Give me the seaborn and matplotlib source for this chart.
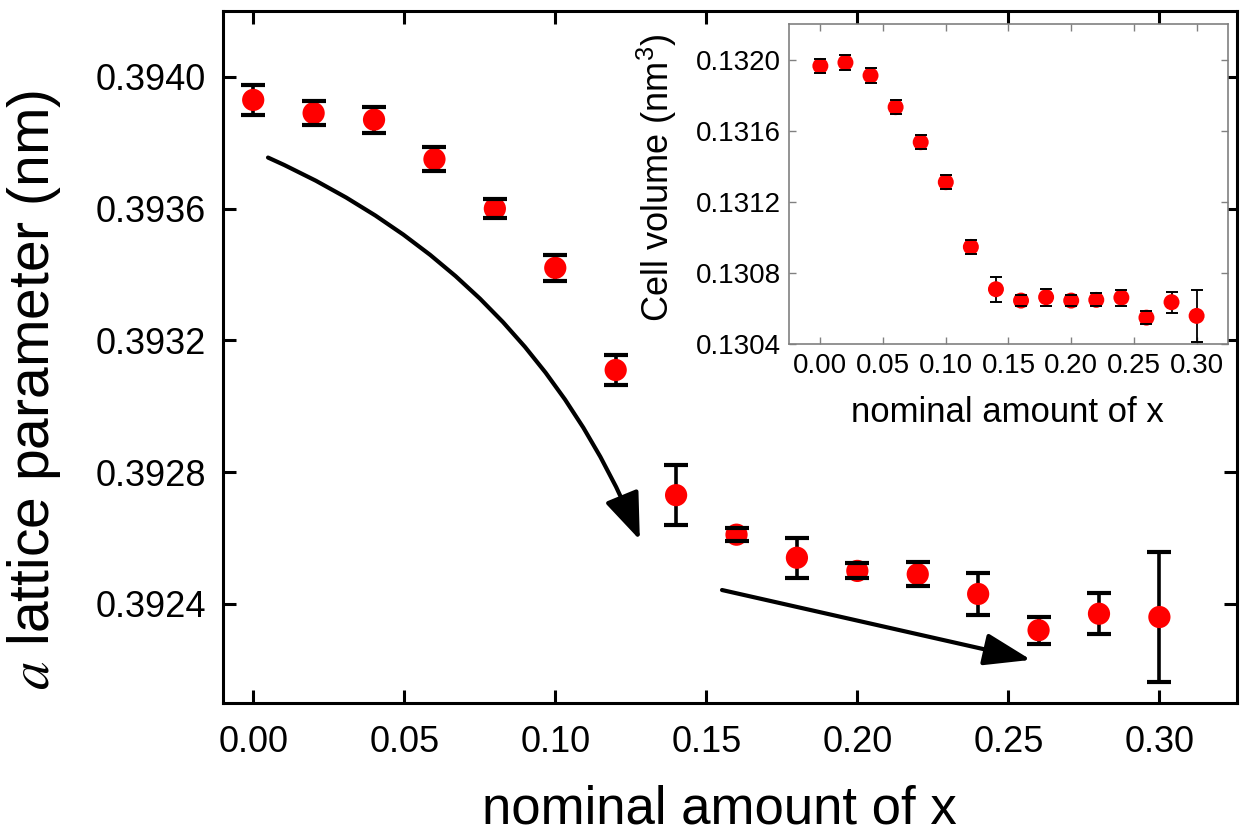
import matplotlib
matplotlib.use("Agg")
import numpy as np
import pandas as pd
import seaborn as sns
import matplotlib.pyplot as plt
from matplotlib.patches import FancyArrowPatch
from matplotlib.ticker import FixedLocator, FormatStrFormatter

# ---------------- data ----------------
x_nominal = [0.00, 0.02, 0.04, 0.06, 0.08, 0.10, 0.12, 0.14,
             0.16, 0.18, 0.20, 0.22, 0.24, 0.26, 0.28, 0.30]
a_lattice = [0.39393, 0.39389, 0.39387, 0.39375, 0.39360, 0.39342, 0.39311, 0.39273,
             0.39261, 0.39254, 0.39250, 0.39249, 0.39243, 0.39232, 0.39237, 0.39236]
a_err = [0.000045, 0.000036, 0.000039, 0.000036, 0.000030, 0.000040, 0.000046, 0.000092,
         0.000020, 0.000060, 0.000023, 0.000036, 0.000063, 0.000041, 0.000062, 0.000198]
cell_vol = [0.131966, 0.131985, 0.131912, 0.131734, 0.131537, 0.131312, 0.130948, 0.130710,
            0.130646, 0.130665, 0.130646, 0.130650, 0.130663, 0.130550, 0.130637, 0.130560]
vol_err = [0.000040, 0.000040, 0.000040, 0.000040, 0.000040, 0.000040, 0.000040, 0.000070,
           0.000030, 0.000047, 0.000030, 0.000036, 0.000045, 0.000036, 0.000058, 0.000148]

main_xticks = [0.00, 0.05, 0.10, 0.15, 0.20, 0.25, 0.30]
main_yticks = [0.3924, 0.3928, 0.3932, 0.3936, 0.3940]
inset_yticks = [0.1304, 0.1308, 0.1312, 0.1316, 0.1320]

# arrows (data coordinates of main axes)
arrow1_start, arrow1_end = (0.0049, 0.393755), (0.128, 0.392594)
arrow2_start, arrow2_end = (0.1552, 0.392442), (0.2575, 0.392230)

df = pd.DataFrame({"x": x_nominal, "a": a_lattice, "a_err": a_err,
                   "vol": cell_vol, "vol_err": vol_err})

# ---------------- style ----------------
sns.set_style("ticks")
plt.rcParams["font.family"] = ["Liberation Sans", "DejaVu Sans"]
plt.rcParams["mathtext.fontset"] = "stix"
plt.rcParams["text.color"] = "black"
plt.rcParams["axes.labelcolor"] = "black"
plt.rcParams["xtick.color"] = "black"
plt.rcParams["ytick.color"] = "black"

fig = plt.figure(figsize=(12.4, 8.39), dpi=100)

# ---------------- main axes ----------------
ax = fig.add_axes([0.1796, 0.1625, 0.818, 0.8244])
eb = ax.errorbar(df["x"], df["a"], yerr=df["a_err"], fmt="none", ecolor="black",
                 elinewidth=2.6, capsize=8.6, capthick=3.0, zorder=2)
for c in eb[1]:
    c.set_zorder(4)
sns.scatterplot(data=df, x="x", y="a", ax=ax, color="#ff0000", s=16 ** 2,
                edgecolor="none", linewidth=0, zorder=3, legend=False)

ax.set_xlim(-0.0101, 0.3257)
ax.set_ylim(0.39210, 0.39420)
ax.xaxis.set_major_locator(FixedLocator(main_xticks))
ax.yaxis.set_major_locator(FixedLocator(main_yticks))
ax.xaxis.set_major_formatter(FormatStrFormatter("%.2f"))
ax.yaxis.set_major_formatter(FormatStrFormatter("%.4f"))
ax.tick_params(direction="in", top=True, right=True, length=9.4, width=2.2,
               labelsize=26, colors="black")
ax.tick_params(axis="y", pad=12)
ax.tick_params(axis="x", pad=16)
for s in ax.spines.values():
    s.set_linewidth(2.2)
    s.set_color("black")

ax.set_xlabel("nominal amount of x", fontsize=38)
ax.set_ylabel("$a$ lattice parameter (nm)", fontsize=41)
ax.xaxis.set_label_coords(0.490, -0.118)
ax.yaxis.set_label_coords(-0.157, 0.452)

arr1 = FancyArrowPatch(arrow1_start, arrow1_end, connectionstyle="arc3,rad=-0.2",
                       arrowstyle="-|>,head_length=1.45,head_width=0.55",
                       mutation_scale=20, lw=3, color="black",
                       shrinkA=0, shrinkB=0, zorder=5)
arr2 = FancyArrowPatch(arrow2_start, arrow2_end,
                       arrowstyle="-|>,head_length=1.45,head_width=0.5",
                       mutation_scale=20, lw=3, color="black",
                       shrinkA=0, shrinkB=0, zorder=5)
ax.add_patch(arr1)
ax.add_patch(arr2)

# ---------------- inset ----------------
axi = fig.add_axes([0.6363, 0.5896, 0.354, 0.3814])
axi.set_facecolor("white")
ebi = axi.errorbar(df["x"], df["vol"], yerr=df["vol_err"], fmt="none", ecolor="black",
                   elinewidth=1.3, capsize=4.3, capthick=1.4, zorder=2)
for c in ebi[1]:
    c.set_zorder(4)
sns.scatterplot(data=df, x="x", y="vol", ax=axi, color="#ff0000",
                s=11.5 ** 2, edgecolor="none", linewidth=0, zorder=3, legend=False)
axi.set_xlim(-0.025, 0.325)
axi.set_ylim(0.1304, 0.1322)
axi.xaxis.set_major_locator(FixedLocator(main_xticks))
axi.yaxis.set_major_locator(FixedLocator(inset_yticks))
axi.xaxis.set_major_formatter(FormatStrFormatter("%.2f"))
axi.yaxis.set_major_formatter(FormatStrFormatter("%.4f"))
axi.tick_params(direction="in", top=True, right=True, length=5, width=1.0,
                color="#808080", labelcolor="black", labelsize=20, pad=6)
for s in axi.spines.values():
    s.set_linewidth(1.2)
    s.set_color("#808080")
axi.set_xlabel("nominal amount of x", fontsize=25)
axi.set_ylabel("Cell volume (nm$\\mathregular{^3}$)", fontsize=26)
axi.xaxis.set_label_coords(0.497, -0.160)
axi.yaxis.set_label_coords(-0.250, 0.521)

fig.savefig("out.png", dpi=100)
